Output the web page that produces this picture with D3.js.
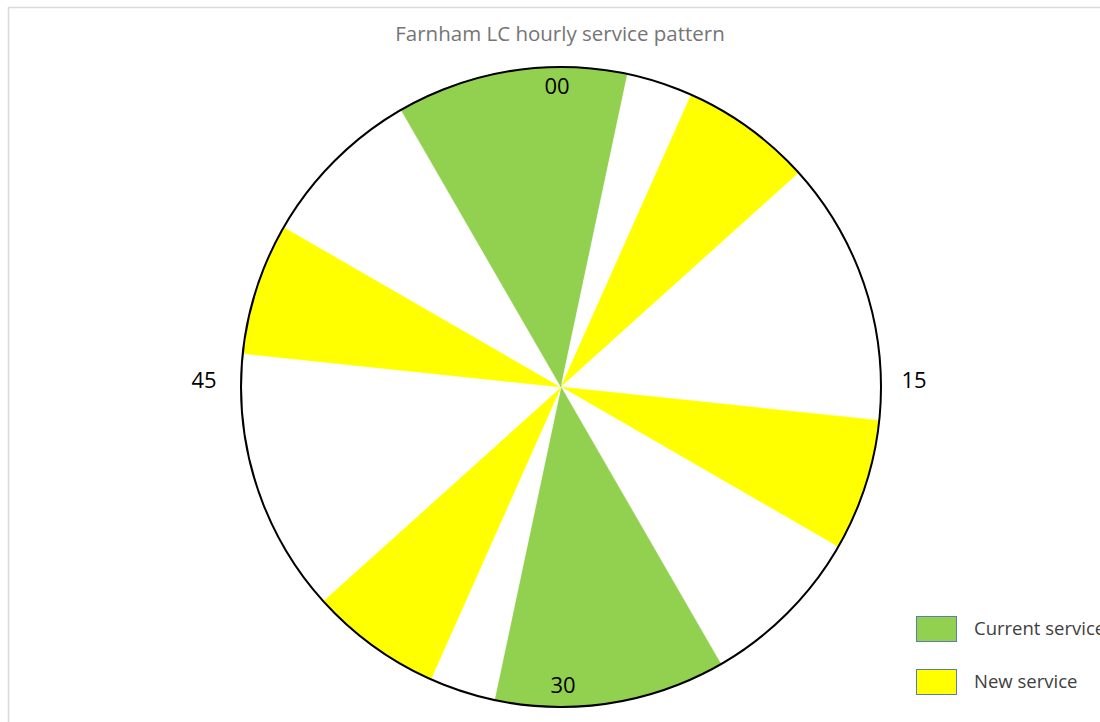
<!DOCTYPE html>
<html>
<head>
<meta charset="utf-8">
<script src="https://cdn.jsdelivr.net/npm/d3@7/dist/d3.min.js"></script>
<style>
  html, body { margin: 0; padding: 0; background: #fff; }
  svg { display: block; }
</style>
</head>
<body>
<svg id="chart" width="1100" height="722"></svg>
<script>
// ---- data ----
const title = "Farnham LC hourly service pattern";
// minutes of each consecutive segment of the hour, starting at :00
const segmentMinutes = [2, 2, 4, 8, 4, 5, 7, 2, 4, 8, 4, 5, 5];
const segmentTypes = ["current", "none", "new", "none", "new", "none", "current", "none", "new", "none", "new", "none", "current"];
const legendKeys = ["current", "new"];
const legendLabels = ["Current service", "New service"];
const tickMinutes = [0, 15, 30, 45];
const tickLabels = ["00", "15", "30", "45"];

// ---- drawing ----
const svg = d3.select("#chart");
const W = 1100, H = 722;
const cx = 561, cy = 387, R = 320;

const color = d3.scaleOrdinal()
  .domain(["current", "new", "none"])
  .range(["#92d050", "#ffff00", "#ffffff"]);

// frame
svg.append("rect")
  .attr("x", 8.5).attr("y", 7.5)
  .attr("width", W + 20).attr("height", H + 20)
  .attr("fill", "none").attr("stroke", "#d9d9d9").attr("stroke-width", 1.5);

// title
svg.append("text")
  .attr("x", 560).attr("y", 41)
  .attr("text-anchor", "middle")
  .attr("font-family", "'Open Sans', sans-serif")
  .attr("font-size", 20.5)
  .attr("fill", "#757575")
  .text(title);

const data = segmentMinutes.map((m, i) => ({ minutes: m, type: segmentTypes[i] }));
const pie = d3.pie().value(d => d.minutes).sort(null);
const arc = d3.arc().innerRadius(0).outerRadius(R);

const g = svg.append("g").attr("transform", `translate(${cx},${cy})`);
g.selectAll("path.slice")
  .data(pie(data))
  .join("path")
  .attr("class", "slice")
  .attr("d", arc)
  .attr("fill", d => color(d.data.type))
  .attr("stroke", d => color(d.data.type))
  .attr("stroke-width", 0.5);

g.append("circle")
  .attr("r", R)
  .attr("fill", "none")
  .attr("stroke", "#000")
  .attr("stroke-width", 2);

// minute labels
const angle = d3.scaleLinear().domain([0, 60]).range([0, 2 * Math.PI]);
const labelRadius = [300, 353, 298, 357];
const labelShift = [[-4, -1], [0, -7], [2, 0], [0, -7]];
g.selectAll("text.tick")
  .data(tickMinutes)
  .join("text")
  .attr("class", "tick")
  .attr("x", (m, i) => Math.sin(angle(m)) * labelRadius[i] + labelShift[i][0])
  .attr("y", (m, i) => -Math.cos(angle(m)) * labelRadius[i] + labelShift[i][1])
  .attr("dy", "0.35em")
  .attr("text-anchor", "middle")
  .attr("font-family", "'Open Sans', sans-serif")
  .attr("font-size", 22)
  .attr("fill", "#000")
  .text((m, i) => tickLabels[i]);

// legend
const lg = svg.append("g").attr("transform", "translate(916,616)");
const item = lg.selectAll("g.item")
  .data(legendKeys)
  .join("g")
  .attr("class", "item")
  .attr("transform", (d, i) => `translate(0,${i * 53})`);
item.append("rect")
  .attr("x", 0.5).attr("y", 0.5)
  .attr("width", 40).attr("height", 25)
  .attr("fill", d => color(d))
  .attr("stroke", "#5b7fa8").attr("stroke-width", 1);
item.append("text")
  .attr("x", 58).attr("y", 13)
  .attr("dy", "0.35em")
  .attr("font-family", "'Open Sans', sans-serif")
  .attr("font-size", 18.5)
  .attr("fill", "#404040")
  .text((d, i) => legendLabels[i]);
</script>
</body>
</html>
